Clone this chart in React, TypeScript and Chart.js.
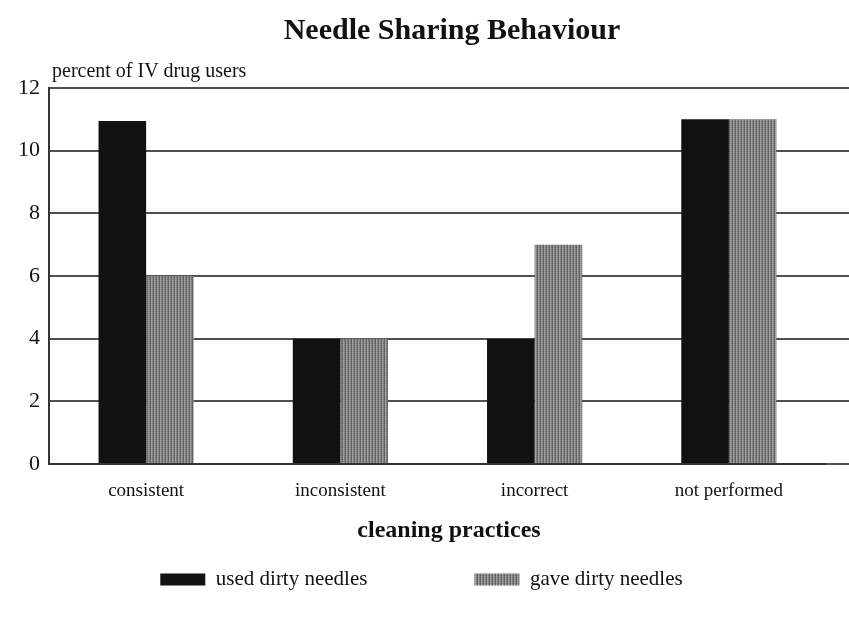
import React, { useEffect, useRef } from 'react';
import { Chart, registerables } from 'chart.js';

Chart.register(...registerables);

const chartTitle = 'Needle Sharing Behaviour';
const yAxisTitle = 'percent of IV drug users';
const xAxisTitle = 'cleaning practices';
const categories = ['consistent', 'inconsistent', 'incorrect', 'not performed'];
const seriesNames = ['used dirty needles', 'gave dirty needles'];
const usedDirtyNeedles = [10.95, 4, 4, 11];
const gaveDirtyNeedles = [6, 4, 7, 11];
const yTickValues = [0, 2, 4, 6, 8, 10, 12];

const SERIF = '"Liberation Serif", "Times New Roman", serif';
const GRID_W = 2;
const LEGEND_PAD = 23;

function makeStripePattern(ctx: CanvasRenderingContext2D): CanvasPattern | string {
  const c = document.createElement('canvas');
  c.width = 3;
  c.height = 2;
  const g = c.getContext('2d');
  if (!g) return '#8e8e8e';
  const cols = ['#686868', '#a8a8a8', '#888888'];
  cols.forEach((col, i) => {
    g.fillStyle = col;
    g.fillRect(i, 0, 1, 2);
  });
  g.fillStyle = 'rgba(0,0,0,0.10)';
  g.fillRect(0, 1, 3, 1);
  return ctx.createPattern(c, 'repeat') || '#8e8e8e';
}

export default function App() {
  const ref = useRef<HTMLCanvasElement>(null);

  useEffect(() => {
    const canvas = ref.current;
    if (!canvas) return;
    const ctx0 = canvas.getContext('2d');
    if (!ctx0) return;
    const gray = makeStripePattern(ctx0);

    const decor = {
      id: 'decor',
      beforeDatasetsDraw(chart: any) {
        const { ctx, chartArea } = chart;
        const y = chart.scales.y;
        ctx.save();
        ctx.strokeStyle = '#505050';
        ctx.lineWidth = GRID_W;
        for (const v of yTickValues) {
          const raw = y.getPixelForValue(v);
          const py = Math.round(raw - GRID_W / 2) + GRID_W / 2;
          ctx.beginPath();
          ctx.moveTo(chartArea.right, py);
          ctx.lineTo(chart.width, py);
          ctx.stroke();
        }
        ctx.restore();
      },
      afterDraw(chart: any) {
        const { ctx, chartArea } = chart;
        const cx = (chartArea.left + chart.width) / 2;
        ctx.save();
        ctx.fillStyle = '#111';
        ctx.textBaseline = 'alphabetic';
        ctx.textAlign = 'center';
        ctx.font = `bold 30px ${SERIF}`;
        ctx.fillText(chartTitle, cx + 3, 39);
        ctx.font = `bold 24px ${SERIF}`;
        ctx.fillText(xAxisTitle, cx, chartArea.bottom + 73);
        ctx.textAlign = 'left';
        ctx.font = `20px ${SERIF}`;
        ctx.fillText(yAxisTitle, chartArea.left + 3, chartArea.top - 11);
        ctx.restore();
      },
    };

    const chart = new Chart(canvas, {
      type: 'bar',
      data: {
        labels: categories,
        datasets: [
          {
            label: seriesNames[0],
            data: usedDirtyNeedles,
            backgroundColor: '#111111',
            borderWidth: 0,
            categoryPercentage: 0.49,
            barPercentage: 1,
          },
          {
            label: seriesNames[1],
            data: gaveDirtyNeedles,
            backgroundColor: gray as any,
            borderWidth: 0,
            categoryPercentage: 0.49,
            barPercentage: 1,
          },
        ],
      },
      options: {
        responsive: false,
        animation: false,
        events: [],
        layout: { padding: { top: 88, left: 17, right: 23, bottom: 26 } },
        plugins: {
          title: { display: false },
          tooltip: { enabled: false },
          legend: {
            display: true,
            position: 'bottom',
            labels: {
              boxWidth: 45,
              boxHeight: 12,
              padding: LEGEND_PAD,
              color: '#111',
              font: { family: SERIF, size: 21 },
              generateLabels: (ch: any) =>
                ch.data.datasets.map((ds: any, i: number) => ({
                  text: i === 0 ? ds.label + '\u2003\u2003\u2003\u2003' : ds.label,
                  fillStyle: ds.backgroundColor,
                  strokeStyle: ds.backgroundColor,
                  lineWidth: 0,
                  hidden: false,
                  datasetIndex: i,
                  fontColor: '#111',
                })),
            },
          },
        },
        scales: {
          x: {
            grid: { display: false, drawTicks: false },
            border: { display: true, color: '#333', width: 2 },
            ticks: {
              color: '#111',
              padding: 16,
              maxRotation: 0,
              font: { family: SERIF, size: 19 },
            },
            afterFit: (s: any) => {
              s.height = 105 - LEGEND_PAD;
            },
          },
          y: {
            min: 0,
            max: 12,
            grid: { color: '#505050', lineWidth: GRID_W, drawTicks: false },
            border: { display: true, color: '#333', width: 2 },
            ticks: {
              color: '#111',
              padding: 9,
              font: { family: SERIF, size: 22 },
            },
            afterBuildTicks: (s: any) => {
              s.ticks = yTickValues.map((v) => ({ value: v }));
            },
            afterFit: (s: any) => {
              s.width = 32;
            },
          },
        },
      },
      plugins: [decor],
    });

    return () => chart.destroy();
  }, []);

  return (
    <div style={{ position: 'fixed', left: 0, top: 0, width: 849, height: 626, background: '#fff' }}>
      <canvas ref={ref} width={849} height={626} style={{ display: 'block' }} />
    </div>
  );
}
